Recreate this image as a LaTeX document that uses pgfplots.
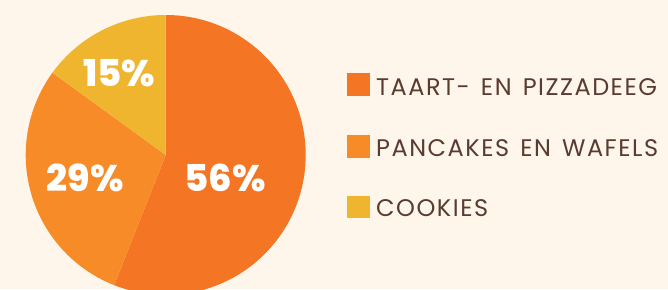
\documentclass[border=0pt]{standalone}
\usepackage{pgfplots}
\pgfplotsset{compat=1.18}
\usepackage{pgfplotstable}
\usepackage{fontspec}
\setmainfont{Poppins}
\newfontfamily\legfont{Poppins}[LetterSpace=6.3,WordSpace=1.4]
\newfontfamily\heavy{Poppins}[UprightFont=* ExtraBold]
\definecolor{bg}{HTML}{FEF6EA}
\definecolor{cA}{HTML}{F47523}
\definecolor{cB}{HTML}{F68B28}
\definecolor{cC}{HTML}{F0B52F}
\definecolor{txt}{HTML}{5A3B30}
\pgfplotstableread[col sep=comma]{
name,value
TAART- EN PIZZADEEG,56
PANCAKES EN WAFELS,29
COOKIES,15
}\piedata
\begin{document}
\begin{tikzpicture}
\pgfplotstablegetelem{0}{value}\of\piedata \let\vA\pgfplotsretval
\pgfplotstablegetelem{1}{value}\of\piedata \let\vB\pgfplotsretval
\pgfplotstablegetelem{2}{value}\of\piedata \let\vC\pgfplotsretval
\pgfplotstablegetelem{0}{name}\of\piedata \let\nA\pgfplotsretval
\pgfplotstablegetelem{1}{name}\of\piedata \let\nB\pgfplotsretval
\pgfplotstablegetelem{2}{name}\of\piedata \let\nC\pgfplotsretval
\pgfmathsetmacro\aA{90}
\pgfmathsetmacro\aB{\aA-3.6*\vA}
\pgfmathsetmacro\aC{\aB-3.6*\vB}
\pgfmathsetmacro\aD{\aC-3.6*\vC}
\begin{axis}[x=1pt,y=1pt,xmin=0,xmax=668,ymin=0,ymax=289,hide axis,anchor=south west,at={(0,0)}]
\fill[bg] (axis cs:0,0) rectangle (axis cs:668,289);
\fill[cA] (axis cs:165.7,134) -- ++(\aA:140pt) arc[start angle=\aA, end angle=\aB, radius=140pt] -- cycle;
\fill[cB] (axis cs:165.7,134) -- ++(\aB:140pt) arc[start angle=\aB, end angle=\aC, radius=140pt] -- cycle;
\fill[cC] (axis cs:165.7,134) -- ++(\aC:140pt) arc[start angle=\aC, end angle=\aD, radius=140pt] -- cycle;
\node[anchor=base,inner sep=0,text=white,font=\fontsize{37}{37}\selectfont\heavy] at (axis cs:225,97) {\vA\%};
\node[anchor=base,inner sep=0,text=white,font=\fontsize{37}{37}\selectfont\heavy] at (axis cs:85,97) {\vB\%};
\node[anchor=base,inner sep=0,text=white,font=\fontsize{37}{37}\selectfont\heavy] at (axis cs:119,202) {\vC\%};
\fill[cA] (axis cs:347,193.3) rectangle (axis cs:370,215.7);
\fill[cB] (axis cs:347,131.3) rectangle (axis cs:370,154);
\fill[cC] (axis cs:347,70.7) rectangle (axis cs:370,93);
\node[anchor=base west,inner sep=0,text=txt,font=\fontsize{24}{24}\selectfont\legfont] at (axis cs:376,193.7) {\nA};
\node[anchor=base west,inner sep=0,text=txt,font=\fontsize{24}{24}\selectfont\legfont] at (axis cs:376,132.8) {\nB};
\node[anchor=base west,inner sep=0,text=txt,font=\fontsize{24}{24}\selectfont\legfont] at (axis cs:376,72.5) {\nC};
\end{axis}
\pgfresetboundingbox
\useasboundingbox (0,0) rectangle (668pt,289pt);
\end{tikzpicture}
\end{document}
